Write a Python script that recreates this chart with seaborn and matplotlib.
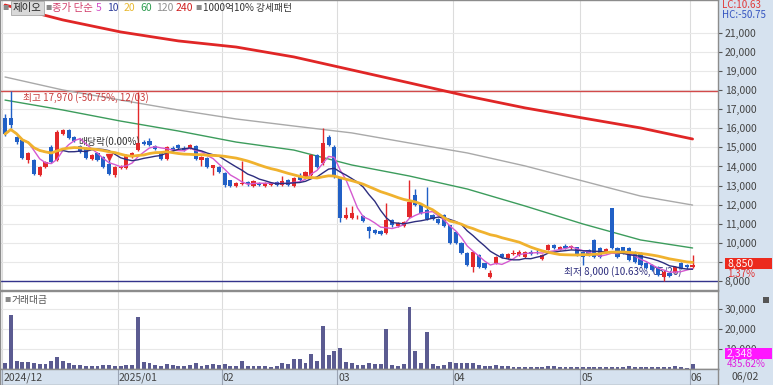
import numpy as np
import pandas as pd
import seaborn as sns
import matplotlib.pyplot as plt
from matplotlib.patches import Rectangle
from matplotlib.ticker import FuncFormatter

sns.set_style("white")
plt.rcParams['font.family'] = ['Noto Sans CJK KR', 'DejaVu Sans']

# daily candles 2024-12-02 .. 2025-06-02 (120 sessions)
opens = [16540, 16540, 15550, 15390, 14340, 14340, 13550, 13960, 15020, 14340,
         15700, 15900, 15540, 15070, 14970, 14390, 14700, 14500, 14150, 13560,
         13920, 13920, 14500, 14860, 15280, 15330, 15070, 14760, 14390, 14970,
         15130, 14970, 14970, 15070, 14340, 14450, 13920, 13970, 13660, 13290,
         12980, 13100, 13190, 12980, 13130, 12980, 13030, 13190, 13030, 13290,
         12980, 13450, 13400, 13550, 14600, 14180, 15550, 15020, 13400, 11300,
         11300, 11330, 11400, 10830, 10670, 10620, 10520, 11200, 10880, 10880,
         11350, 12500, 11980, 11720, 11460, 11250, 11460, 10930, 10570, 9990,
         9470, 8730, 9360, 8940, 8210, 8940, 9410, 9200, 9440, 9360,
         9260, 9520, 9540, 9150, 9620, 9890, 9620, 9830, 9730, 9780,
         9520, 9620, 10150, 9730, 9520, 11820, 9730, 9780, 9730, 9520,
         9470, 8940, 8840, 8730, 8210, 8420, 8470, 8940, 8840, 8730]
closes = [15700, 16170, 15280, 14450, 14700, 13610, 13970, 14240, 14240, 15810,
          15900, 15500, 15330, 14760, 14450, 14600, 14340, 13980, 13620, 13970,
          14020, 14600, 14700, 15230, 15200, 15130, 14920, 14390, 15020, 14860,
          14970, 14860, 15130, 14390, 14500, 13980, 14080, 13710, 13030, 12980,
          13130, 13130, 13080, 13240, 13030, 13130, 13130, 13030, 13240, 13030,
          13400, 13290, 13710, 14600, 13970, 15230, 15130, 13450, 11300, 11460,
          11560, 11360, 11150, 10620, 10520, 10460, 11200, 10940, 11040, 11090,
          12140, 11980, 11560, 11250, 11250, 11040, 10880, 9990, 9990, 9470,
          8840, 9520, 8730, 8680, 8420, 9260, 9260, 9410, 9470, 9520,
          9520, 9410, 9500, 9360, 9890, 9730, 9780, 9730, 9830, 9360,
          9260, 9360, 9260, 9260, 9680, 9730, 9260, 9470, 9100, 9000,
          8840, 8680, 8580, 8310, 8470, 8260, 8730, 8680, 8730, 8850]
highs = [16750, 17970, 15600, 15450, 14750, 14400, 14000, 14300, 15100, 15900,
         15950, 15950, 15600, 15120, 15000, 14650, 14750, 14550, 14500, 14000,
         14100, 14650, 14750, 17900, 15400, 15500, 15150, 14800, 15050, 15050,
         15200, 15050, 15200, 15100, 14550, 14500, 14100, 14000, 13700, 13300,
         13200, 14300, 13250, 13300, 13200, 13200, 13180, 13250, 13500, 13350,
         13450, 13650, 13750, 14650, 14650, 16000, 15650, 15100, 13450, 11900,
         11950, 11450, 11450, 10900, 10700, 10650, 12100, 11250, 11100, 11150,
         13300, 12800, 12050, 12900, 11500, 11300, 11500, 10950, 10600, 10050,
         9500, 9550, 9400, 8960, 8550, 9300, 9450, 9450, 9600, 9600,
         9560, 9600, 9700, 9400, 9950, 9950, 9850, 9950, 9900, 9800,
         9560, 9700, 10200, 9800, 9750, 11850, 9800, 9800, 9780, 9550,
         9500, 8980, 8880, 8760, 8550, 8450, 8780, 8980, 8900, 9360]
lows = [15600, 16000, 15200, 14400, 14200, 13550, 13500, 13900, 14200, 14300,
        15650, 15450, 15280, 14700, 14400, 14350, 14300, 13900, 13550, 13450,
        13850, 13850, 14450, 14800, 15100, 15050, 14850, 14350, 14350, 14800,
        14900, 14800, 14900, 14350, 14050, 13900, 13550, 13650, 12950, 12900,
        12900, 13050, 13000, 12950, 12980, 12950, 12980, 13000, 13000, 12980,
        12950, 13250, 13350, 13500, 13900, 14100, 15050, 13400, 11100, 11250,
        11250, 11250, 11100, 10250, 10450, 10400, 10450, 10850, 10850, 10850,
        11300, 11950, 11500, 11200, 11200, 11000, 10850, 9950, 9950, 9400,
        8800, 8450, 8700, 8620, 8180, 8900, 9200, 9150, 9350, 9300,
        9200, 9350, 9400, 9100, 9600, 9700, 9600, 9700, 9700, 9300,
        8840, 9300, 9200, 9200, 9450, 9700, 9200, 9400, 9050, 8950,
        8800, 8620, 8520, 8250, 8000, 8200, 8420, 8620, 8650, 8700]
# 거래대금 (백만원)
trade_value = [3150, 27000, 4000, 3500, 3300, 3000, 2500, 2500, 4000, 6000,
               4000, 3000, 1800, 1800, 1600, 1600, 1600, 2000, 2000, 1500,
               1600, 1800, 2000, 26000, 3500, 3000, 1800, 1600, 2500, 2200,
               1600, 1500, 2000, 3000, 1600, 2200, 2500, 2000, 2700, 1500,
               1500, 4200, 1500, 1500, 1400, 1500, 1200, 1600, 3000, 2700,
               5000, 5000, 3000, 7500, 4000, 21500, 7000, 9000, 10500, 3500,
               2800, 2000, 2000, 2800, 2300, 2500, 20000, 2000, 1500, 2500,
               31000, 9000, 3000, 18500, 2500, 1700, 1800, 3500, 2800, 2800,
               2800, 2800, 1800, 1500, 1500, 1800, 1300, 1500, 1000, 1200,
               1000, 1000, 1000, 1200, 1700, 1700, 1000, 1200, 1000, 1200,
               1000, 1000, 1000, 1000, 1000, 1200, 1000, 1200, 1300, 800,
               1000, 1000, 1000, 1000, 1200, 1000, 1700, 1000, 440, 2348]

month_start = [0, 20, 38, 58, 78, 100, 119]
month_labels = ["2024/12", "2025/01", "02", "03", "04", "05", "06"]

# long moving averages every 10 sessions
ma_idx = [0, 10, 20, 30, 40, 50, 60, 70, 80, 90, 100, 110, 119]
ma60 = [17480, 16960, 16380, 15860, 15280, 14860, 14080, 13500, 12820, 11930, 10990, 10150, 9730]
ma120 = [18690, 18010, 17480, 16960, 16490, 16120, 15760, 15230, 14710, 14030, 13240, 12450, 11980]
ma240 = [22460, 21680, 21050, 20580, 20260, 19740, 19060, 18380, 17690, 17070, 16540, 16020, 15440]

RED = '#e3282a'
BLUE = '#2160c6'
STRIP = '#d6e2ef'
W, H = 773, 385


def box(x0, y0, x1, y1):
    return [x0 / W, 1 - y1 / H, (x1 - x0) / W, (y1 - y0) / H]


df = pd.DataFrame({'open': opens, 'high': highs, 'low': lows, 'close': closes, 'value': trade_value})
df['i'] = np.arange(len(df))
up = df['close'] >= df['open']
cols = np.where(up, RED, BLUE)

fig = plt.figure(figsize=(W / 100, H / 100), dpi=100)
fig.add_artist(Rectangle((718 / W, 0), 55 / W, 1, transform=fig.transFigure,
                         facecolor=STRIP, edgecolor='none', zorder=-5))

ax = fig.add_axes(box(0, 0, 718, 290))
axv = fig.add_axes(box(0, 291, 718, 369), sharex=ax)
axd = fig.add_axes(box(0, 369, 718, 385), sharex=ax)

xlim = (-0.87, 123.4)

# candles
ax.vlines(df['i'], df['low'], df['high'], colors=cols, lw=1, zorder=3)
body_lo = np.minimum(df['open'], df['close'])
body_h = np.maximum((df['close'] - df['open']).abs(), 45)
ax.bar(df['i'], body_h, bottom=body_lo, width=0.72, color=cols, linewidth=0, zorder=4)

# moving averages
for n, c, lw in [(5, '#d45ad0', 1.0), (10, '#2d2d7e', 1.0), (20, '#f0b22e', 2.0)]:
    sns.lineplot(x=df['i'], y=df['close'].rolling(n, min_periods=1).mean(), ax=ax,
                 color=c, lw=lw, zorder=5)
sns.lineplot(x=ma_idx, y=ma60, ax=ax, color='#3c9c5c', lw=1, zorder=2)
sns.lineplot(x=ma_idx, y=ma120, ax=ax, color='#a9a9a9', lw=1, zorder=2)
sns.lineplot(x=ma_idx, y=ma240, ax=ax, color='#e02626', lw=2, zorder=2)

hi_i = int(df['high'].idxmax())
lo_i = int(df['low'].idxmin())
ax.axhline(df['high'].max(), color='#d24a4a', lw=1, zorder=1)
ax.axhline(df['low'].min(), color='#34348c', lw=1, zorder=1)
ax.annotate("최고 17,970 (-50.75%, 12/03)", xy=(hi_i, df['high'].max()), xytext=(12, -2),
            textcoords='offset pixels', va='top', ha='left', fontsize=7, color='#c83c3c')
ax.annotate("최저 8,000 (10.63%, 05/26)", xy=(lo_i, df['low'].min()), xytext=(18, 3),
            textcoords='offset pixels', va='bottom', ha='right', fontsize=7, color='#2c2c7c')
# ex-dividend marker
ax.plot([18], [highs[18]], marker='v', color=RED, ms=4, zorder=6)
ax.annotate("배당락(0.00%)", xy=(18, highs[18]), xytext=(0, 15), textcoords='offset pixels',
            ha='center', va='center', fontsize=7, color='#333333')

ax.set_xlim(*xlim)
ax.set_ylim(7528, 22724)
ax.set_yticks(range(8000, 22000, 1000))
ax.yaxis.tick_right()
ax.yaxis.set_major_formatter(FuncFormatter(lambda v, p: f"{int(v):,}"))
ax.tick_params(axis='y', right=True, length=3, pad=2, labelsize=7.5, colors='#555555',
               labelcolor='#444444')
ax.tick_params(axis='x', bottom=False, labelbottom=False)
ax.grid(axis='y', color='#e8e8e8', lw=0.8)
for b in month_start:
    ax.axvline(b - 0.5, color='#dcdcdc', lw=0.8, zorder=0)
    axv.axvline(b - 0.5, color='#dcdcdc', lw=0.8, zorder=0)
ax.set_xlabel('')
ax.set_ylabel('')

# trade value panel
sns.barplot(x=df['i'], y=df['value'], native_scale=True, ax=axv, color='#5b5b91',
            saturation=1, width=0.68, linewidth=0)
axv.set_ylim(0, 39000)
axv.set_yticks([10000, 20000, 30000])
axv.yaxis.tick_right()
axv.yaxis.set_major_formatter(FuncFormatter(lambda v, p: f"{int(v):,}"))
axv.tick_params(axis='y', right=True, length=3, pad=2, labelsize=7.5, colors='#555555',
                labelcolor='#444444')
axv.tick_params(axis='x', bottom=False, labelbottom=False)
axv.grid(axis='y', color='#e8e8e8', lw=0.8)
axv.set_xlabel('')
axv.set_ylabel('')

# date strip
axd.set_facecolor(STRIP)
axd.set_ylim(0, 1)
axd.set_yticks([])
axd.tick_params(axis='x', bottom=False, labelbottom=False)
for b, lab in zip(month_start, month_labels):
    axd.axvline(b - 0.5, color='#9aa4b4', lw=0.8)
    axd.text(b - 0.3, 0.45, lab, fontsize=7.5, color='#444444', va='center', ha='left')

for a in (ax, axv, axd):
    a.set_xlim(*xlim)
    for s in a.spines.values():
        s.set_color('#8c8c8c')
        s.set_linewidth(1)

# header legend
def ftext(x, y, s, **kw):
    fig.text(x / W, 1 - y / H, s, va='center', ha='left', **kw)


ftext(2, 8, "■", fontsize=4.5, color='#8a8a8a')
ftext(13, 8, "제이오", fontsize=7.5, color='#222222',
      bbox=dict(boxstyle='square,pad=0.2', fc='#d9d9d9', ec='#a8a8a8', lw=0.6))
ftext(45, 8, "■", fontsize=4.5, color='#8a8a8a')
ftext(52, 8, "종가 단순", fontsize=7.5, color='#d2406c')
ftext(96, 8, "5", fontsize=7.5, color='#d24fc8')
ftext(107, 8, "10", fontsize=7.5, color='#2d3c9a')
ftext(124, 8, "20", fontsize=7.5, color='#e8b830')
ftext(140, 8, "60", fontsize=7.5, color='#2e9c50')
ftext(156, 8, "120", fontsize=7.5, color='#909090')
ftext(176, 8, "240", fontsize=7.5, color='#d02020')
ftext(195, 8, "■", fontsize=4.5, color='#8a8a8a')
ftext(203, 8, "1000억10% 강세패턴", fontsize=7, color='#333333')
ftext(4, 300, "■", fontsize=4.5, color='#8a8a8a')
ftext(12, 300, "거래대금", fontsize=7, color='#555555')

# right strip texts
ftext(722, 5, "LC:10.63", fontsize=7, color='#e03a3a')
ftext(722, 15, "HC:-50.75", fontsize=7, color='#3454c0')
fig.add_artist(Rectangle((725 / W, 1 - 269 / H), 47 / W, 11 / H, transform=fig.transFigure,
                         facecolor='#ec2a1e', edgecolor='none', zorder=4))
ftext(727, 263.5, "8,850", fontsize=7.5, color='white', zorder=5)
ftext(727, 274, "1.37%", fontsize=7, color='#e03030', zorder=5)
fig.add_artist(Rectangle((725 / W, 1 - 359 / H), 47 / W, 11 / H, transform=fig.transFigure,
                         facecolor='#ff16ff', edgecolor='none', zorder=4))
ftext(727, 353.5, "2,348", fontsize=7.5, color='#ffe0ff', zorder=5)
ftext(727, 364, "435.62%", fontsize=7, color='#e020e0', zorder=5)
fig.add_artist(Rectangle((763 / W, 1 - 303 / H), 6 / W, 6 / H, transform=fig.transFigure,
                         facecolor='#555555', edgecolor='none', zorder=4))
ftext(732, 377, "06/02", fontsize=7.5, color='#444444')

fig.savefig('out.png', dpi=100)
